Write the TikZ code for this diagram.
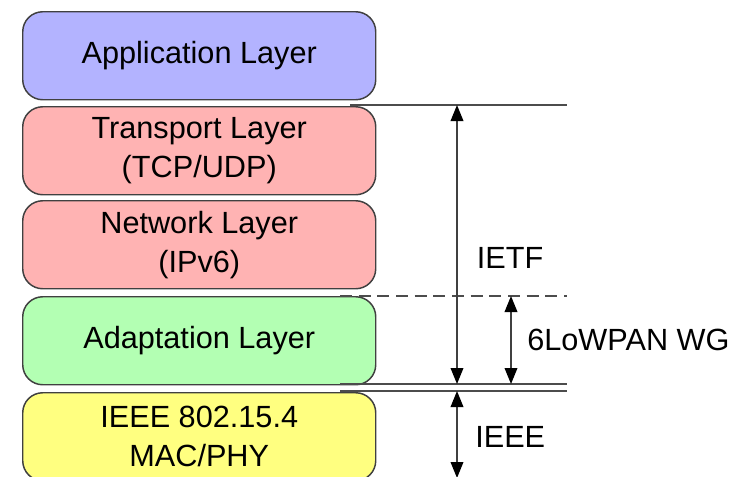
\documentclass[tikz,border=0pt]{standalone}
\usepackage{fontspec}
\setmainfont{Liberation Sans}
\usetikzlibrary{arrows.meta}

\definecolor{appblue}{HTML}{B3B3FF}
\definecolor{ietfred}{HTML}{FFB3B3}
\definecolor{adaptgreen}{HTML}{B3FFB3}
\definecolor{ieeeyellow}{HTML}{FFFF80}
\definecolor{edgegray}{HTML}{404040}

\tikzset{
  layer/.style={draw=edgegray, line width=1.1pt, rounded corners=15pt,
    minimum width=264.75pt, minimum height=66pt, align=center,
    font=\fontsize{23}{29}\selectfont, anchor=north west, inner sep=0pt},
  border/.style={draw=black!70, line width=1.1pt},
  span/.style={draw=black!75, line width=1.1pt,
    {Triangle[length=12pt,width=9.5pt,color=black]}-{Triangle[length=12pt,width=9.5pt,color=black]}},
  tag/.style={font=\fontsize{23}{29}\selectfont, inner sep=0pt}
}

\begin{document}
\begin{tikzpicture}[x=0.75pt, y=-0.75pt]
\useasboundingbox (0,0) rectangle (738,476);

% --- Layer stack ---
\node[layer, fill=appblue]    (app)   at (22, 11)  {Application Layer};
\node[layer, fill=ietfred]    (trans) at (22, 106) {Transport Layer\\(TCP/UDP)};
\node[layer, fill=ietfred]    (net)   at (22, 200) {Network Layer\\(IPv6)};
\node[layer, fill=adaptgreen] (adapt) at (22, 296) {Adaptation Layer};
\node[layer, fill=ieeeyellow] (ieee)  at (22, 392) {IEEE 802.15.4\\MAC/PHY};

% --- Boundary lines ---
\coordinate (topL) at (350, 105);  \coordinate (topR) at (567, 105);
\coordinate (dashL) at (340, 296); \coordinate (dashR) at (567, 296);
\coordinate (lowL) at (340, 384);  \coordinate (lowR) at (567, 384);
\coordinate (ieL) at (340, 391);   \coordinate (ieR) at (567, 391);
\draw[border] (topL) -- (topR);
\draw[border, dashed, dash pattern=on 9pt off 5pt] (dashL) -- (dashR);
\draw[border] (lowL) -- (lowR);
\draw[border] (ieL) -- (ieR);

% --- Spans ---
\coordinate (ietfT) at (457, 105);  \coordinate (ietfB) at (457, 384);
\coordinate (lowpT) at (511, 296);  \coordinate (lowpB) at (511, 384);
\coordinate (ieeeT) at (457, 391);  \coordinate (ieeeB) at (457, 478);
\draw[span] (ietfT) -- (ietfB);
\draw[span] (lowpT) -- (lowpB);
\draw[span] (ieeeT) -- (ieeeB);

\node[tag] (ietf) at (510, 258) {IETF};
\node[tag, anchor=west] (lowpan) at (527, 340) {6LoWPAN WG};
\node[tag, anchor=west] (ieeetag) at (475, 437) {IEEE};

\end{tikzpicture}
\end{document}
